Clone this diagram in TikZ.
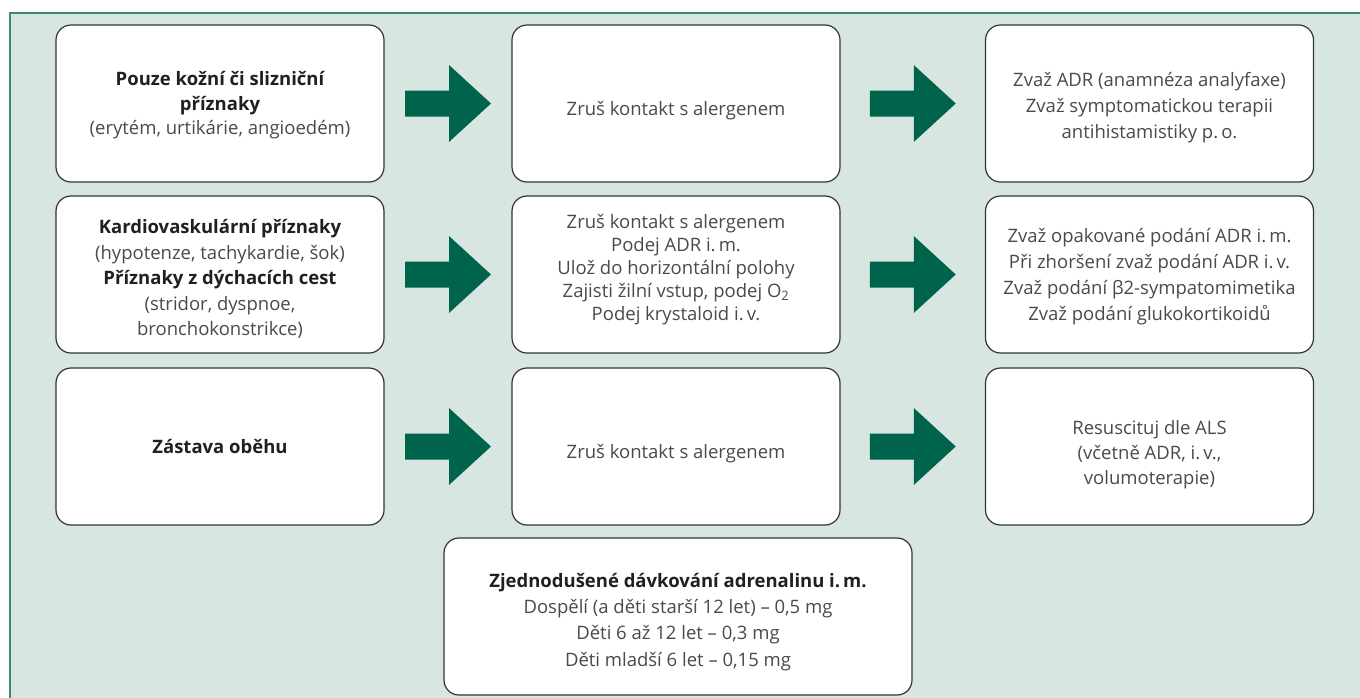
\documentclass[tikz,border=0pt]{standalone}
\usepackage{fontspec}
\setmainfont{Open Sans}
\usetikzlibrary{calc}
\definecolor{panelbg}{HTML}{D8E6E2}
\definecolor{panelline}{HTML}{3D8A72}
\definecolor{arrowgreen}{HTML}{00634B}
\definecolor{boxline}{HTML}{333333}
\definecolor{txt}{HTML}{4A4A4A}
\definecolor{txtb}{HTML}{231F20}
\tikzset{
  box/.style={draw=boxline, line width=1.2pt, fill=white, rounded corners=15pt,
    minimum width=328pt, minimum height=157pt, inner sep=0pt, outer sep=0pt,
    align=center, text=txt, font=\fontsize{18.5}{25}\selectfont},
  bigarrow/.style={fill=arrowgreen, draw=none}
}
\newcommand{\hd}[1]{{\color{txtb}\bfseries #1}}
% shifted block of centred lines: #1 = downward shift, #2 = lines
\newcommand{\tx}[2]{\raisebox{-#1}[\height][\depth]{\begin{tabular}{@{}c@{}}#2\end{tabular}}}
\newcommand{\blockarrow}[1]{\fill[bigarrow] ($(#1)+(-43,-13)$) -- ++(44,0) -- ++(0,-25.5)
  -- ++(42,38.5) -- ++(-42,38.5) -- ++(0,-25.5) -- ++(-44,0) -- cycle;}
\begin{document}
\begin{tikzpicture}[x=1pt,y=-1pt]
\useasboundingbox (0,0) rectangle (1360,697);
\clip (0,0) rectangle (1360,697);
\fill[panelbg] (10,13) rectangle (1370,710);
\draw[panelline, line width=1.5pt] (10,710) -- (10,13) -- (1370,13);
% row 1
\node[box, font=\fontsize{18.5}{24.5}\selectfont] (a1) at (220,103.5) {\tx{2pt}{\hd{Pouze kožní či slizniční}\\\hd{příznaky}\\(erytém, urtikárie, angioedém)}};
\node[box] (b1) at (676,103.5) {\tx{7pt}{Zruš kontakt s alergenem}};
\node[box, font=\fontsize{18.5}{26}\selectfont] (c1) at (1149.5,103.5) {\tx{4pt}{Zvaž ADR (anamnéza analyfaxe)\\Zvaž symptomatickou terapii\\antihistamistiky p.\,o.}};
% row 2
\node[box, font=\fontsize{18.5}{25.5}\selectfont] (a2) at (220,274.5) {\tx{5pt}{\hd{Kardiovaskulární příznaky}\\(hypotenze, tachykardie, šok)\\\hd{Příznaky z dýchacích cest}\\(stridor, dyspnoe,\\bronchokonstrikce)}};
\node[box, font=\fontsize{18.5}{23}\selectfont] (b2) at (676,274.5) {\tx{-5pt}{Zruš kontakt s alergenem\\Podej ADR i.\,m.\\Ulož do horizontální polohy\\Zajisti žilní vstup, podej O\textsubscript{2}\\Podej krystaloid i.\,v.}};
\node[box, font=\fontsize{18.5}{26}\selectfont] (c2) at (1149.5,274.5) {\tx{2pt}{Zvaž opakované podání ADR i.\,m.\\Při zhoršení zvaž podání ADR i.\,v.\\Zvaž podání β2-sympatomimetika\\Zvaž podání glukokortikoidů}};
% row 3
\node[box] (a3) at (220,446.5) {\tx{2pt}{\hd{Zástava oběhu}}};
\node[box] (b3) at (676,446.5) {\tx{7pt}{Zruš kontakt s alergenem}};
\node[box] (c3) at (1149.5,446.5) {\tx{8pt}{Resuscituj dle ALS\\(včetně ADR, i.\,v.,\\volumoterapie)}};
% bottom
\node[box, minimum width=468pt, minimum height=157pt, font=\fontsize{18.5}{26.3}\selectfont] (d) at (678,616.5) {\tx{5pt}{\hd{Zjednodušené dávkování adrenalinu i.\,m.}\\Dospělí (a děti starší 12 let) – 0,5 mg\\Děti 6 až 12 let – 0,3 mg\\Děti mladší 6 let – 0,15 mg}};
% arrows between boxes
\path (a1.east) -- (b1.west) coordinate[midway] (m1);
\path (b1.east) -- (c1.west) coordinate[midway] (m2);
\path (a2.east) -- (b2.west) coordinate[midway] (m3);
\path (b2.east) -- (c2.west) coordinate[midway] (m4);
\path (a3.east) -- (b3.west) coordinate[midway] (m5);
\path (b3.east) -- (c3.west) coordinate[midway] (m6);
\blockarrow{m1}
\blockarrow{m2}
\blockarrow{m3}
\blockarrow{m4}
\blockarrow{m5}
\blockarrow{m6}
\end{tikzpicture}
\end{document}
